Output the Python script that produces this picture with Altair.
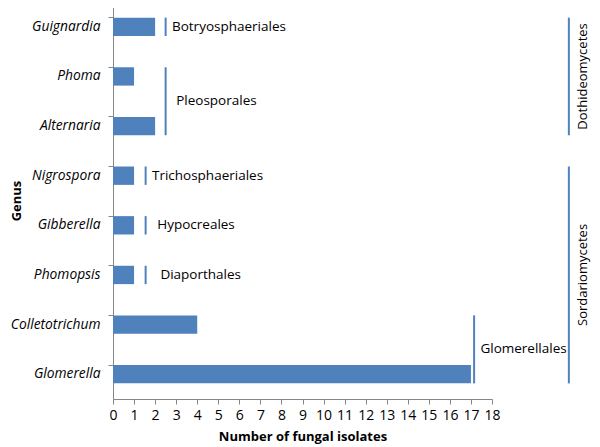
import altair as alt
import pandas as pd

genus = ["Guignardia", "Phoma", "Alternaria", "Nigrospora", "Gibberella",
         "Phomopsis", "Colletotrichum", "Glomerella"]
isolates = [2, 1, 2, 1, 1, 1, 4, 17]

orders = ["Botryosphaeriales", "Pleosporales", "Trichosphaeriales",
          "Hypocreales", "Diaporthales", "Glomerellales"]
order_first = [0, 1, 3, 4, 5, 6]
order_last = [0, 2, 3, 4, 5, 7]
order_line_x = [2.5, 2.5, 1.55, 1.55, 1.55, 17.15]
order_text_x = [2.8, 3.0, 1.85, 2.1, 2.25, 17.45]

classes = ["Dothideomycetes", "Sordariomycetes"]
class_first = [0, 3]
class_last = [2, 7]
class_line_x = [21.65, 21.65]
class_text_x = [22.3, 22.3]

x_ticks = list(range(0, 19))
XDOM = [0, 18]
FONT = "Open Sans"
BLUE = "#4F81BD"
HALF = 0.185  # half bar thickness in band-step units

bars_df = pd.DataFrame({"Genus": genus, "n": isolates})
ord_df = pd.DataFrame({
    "name": orders,
    "lx": order_line_x,
    "tx": order_text_x,
    "y1": [f + 0.5 - HALF for f in order_first],
    "y2": [l + 0.5 + HALF for l in order_last],
    "ty": [(f + l) / 2 + 0.5 for f, l in zip(order_first, order_last)],
})
cls_df = pd.DataFrame({
    "name": classes,
    "lx": class_line_x,
    "tx": class_text_x,
    "y1": [f + 0.5 - HALF for f in class_first],
    "y2": [l + 0.5 + HALF for l in class_last],
    "ty": [(f + l) / 2 + 0.5 for f, l in zip(class_first, class_last)],
})

xscale = alt.Scale(domain=XDOM, nice=False, zero=True)
yq = alt.Scale(domain=[0, 8], reverse=True, nice=False, zero=False)
xaxis = alt.Axis(title="Number of fungal isolates", values=x_ticks,
                 labelOverlap=False, labelFlush=False,
                 grid=False, domainColor="#868686", tickColor="#868686",
                 tickSize=5, labelPadding=4, labelFontSize=14,
                 labelFont=FONT, labelColor="#000000",
                 titleFont=FONT, titleFontSize=13, titleFontWeight="bold",
                 titleColor="#000000", titlePadding=8)

bars = alt.Chart(bars_df).mark_bar(color=BLUE).encode(
    x=alt.X("n:Q", scale=xscale, axis=xaxis),
    y=alt.Y("Genus:N", sort=genus,
            scale=alt.Scale(paddingInner=0.63, paddingOuter=0.315),
            axis=alt.Axis(title="Genus", grid=False, domainColor="#868686",
                          tickColor="#868686", tickSize=5, bandPosition=0,
                          labelPadding=8, labelFontSize=13.8, labelFont=FONT,
                          labelFontStyle="italic", labelColor="#000000",
                          titleFont=FONT, titleFontSize=13, titleFontWeight="bold",
                          titleColor="#000000", titleX=-97, titleBaseline="middle")),
)

ord_rules = alt.Chart(ord_df).mark_rule(color=BLUE, strokeWidth=2, clip=False).encode(
    x=alt.X("lx:Q", scale=xscale, axis=xaxis),
    y=alt.Y("y1:Q", scale=yq, axis=None),
    y2="y2:Q",
)
ord_text = alt.Chart(ord_df).mark_text(align="left", baseline="middle", font=FONT,
                                       fontSize=13.5, color="#000000", clip=False).encode(
    x=alt.X("tx:Q", scale=xscale, axis=xaxis),
    y=alt.Y("ty:Q", scale=yq, axis=None),
    text="name:N",
)
cls_rules = alt.Chart(cls_df).mark_rule(color=BLUE, strokeWidth=2, clip=False).encode(
    x=alt.X("lx:Q", scale=xscale, axis=xaxis),
    y=alt.Y("y1:Q", scale=yq, axis=None),
    y2="y2:Q",
)
cls_text = alt.Chart(cls_df).mark_text(align="center", baseline="middle", angle=270,
                                       font=FONT, fontSize=13, color="#000000",
                                       clip=False).encode(
    x=alt.X("tx:Q", scale=xscale, axis=xaxis),
    y=alt.Y("ty:Q", scale=yq, axis=None),
    text="name:N",
)

chart = alt.layer(bars, ord_rules, ord_text, cls_rules, cls_text).resolve_scale(
    y="independent"
).properties(
    width=379, height=397,
    autosize=alt.AutoSizeParams(type="none"),
    padding={"left": 105, "top": -6, "right": 100, "bottom": 47},
).configure_view(stroke=None)

chart.save("out.html", embed_options={"renderer": "svg", "actions": False})
